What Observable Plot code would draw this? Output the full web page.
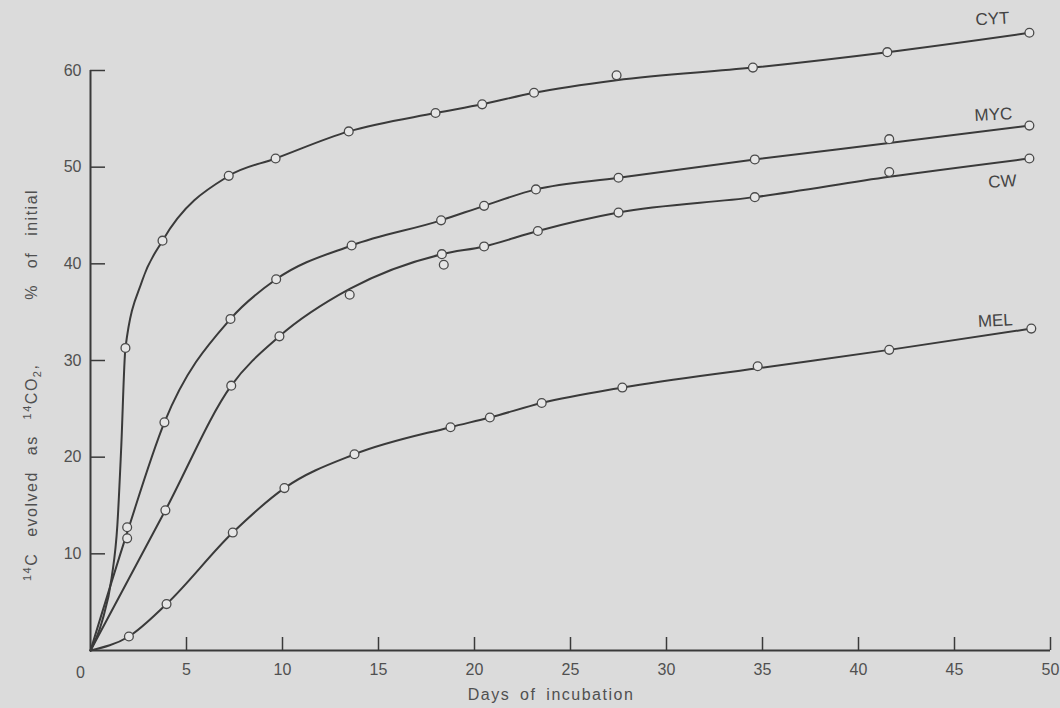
<!DOCTYPE html>
<html><head><meta charset="utf-8">
<script src="https://cdn.jsdelivr.net/npm/d3@7"></script>
<script src="https://cdn.jsdelivr.net/npm/@observablehq/plot@0.6"></script>
<style>
html,body{margin:0;padding:0;background:#dbdbdb;}
#chart{width:1060px;height:708px;}
</style></head><body><div id="chart"></div>
<script>
// ---- data ----
const xTicks = [5, 10, 15, 20, 25, 30, 35, 40, 45, 50];
const yTicks = [10, 20, 30, 40, 50, 60];
const originLabel = ["0"];
const seriesNames = ["CYT", "MYC", "CW", "MEL"];

// measured points (open circles)
const cytDays   = [1.82, 3.75, 7.2, 9.64, 13.45, 17.97, 20.4, 23.1, 27.4, 34.5, 41.5, 48.9];
const cytValues = [31.3, 42.4, 49.1, 50.9, 53.7, 55.6, 56.5, 57.7, 59.5, 60.3, 61.9, 63.9];
const mycDays   = [1.91, 1.91, 3.85, 7.29, 9.67, 13.6, 18.26, 20.5, 23.2, 27.5, 34.6, 41.6, 48.9];
const mycValues = [12.75, 11.6, 23.6, 34.3, 38.4, 41.9, 44.5, 46.0, 47.7, 48.9, 50.8, 52.9, 54.3];
const cwDays    = [3.9, 7.33, 9.84, 13.5, 18.3, 18.4, 20.5, 23.3, 27.5, 34.6, 41.6, 48.9];
const cwValues  = [14.5, 27.4, 32.5, 36.8, 41.0, 39.9, 41.8, 43.4, 45.3, 46.9, 49.5, 50.9];
const melDays   = [2.0, 3.96, 7.41, 10.1, 13.75, 18.75, 20.8, 23.5, 27.7, 34.75, 41.6, 49.0];
const melValues = [1.45, 4.8, 12.2, 16.8, 20.3, 23.1, 24.1, 25.6, 27.2, 29.4, 31.1, 33.3];

// hand-drawn fitted curves
const cytCurveDays   = [0, 0.6, 1.1, 1.4, 1.6, 1.82, 2.7, 3.75, 7.2, 9.64, 13.45, 17.97, 20.4, 23.1, 27.4, 34.5, 41.5, 48.9];
const cytCurveValues = [0, 3.0, 7.5, 13.0, 21.0, 31.3, 38.3, 42.4, 49.1, 50.9, 53.7, 55.6, 56.5, 57.7, 59.0, 60.3, 61.9, 63.9];
const mycCurveDays   = [0, 1.91, 3.85, 7.29, 9.67, 13.6, 18.26, 20.5, 23.2, 27.5, 34.6, 41.6, 48.9];
const mycCurveValues = [0, 12.2, 23.6, 34.3, 38.4, 41.9, 44.5, 46.0, 47.7, 48.9, 50.8, 52.5, 54.3];
const cwCurveDays    = [0, 3.9, 7.33, 9.84, 13.5, 18.3, 20.5, 23.3, 27.5, 34.6, 41.6, 48.9];
const cwCurveValues  = [0, 14.5, 27.4, 32.5, 37.4, 41.0, 41.8, 43.4, 45.3, 46.9, 49.0, 50.9];
const melCurveDays   = [0, 2.0, 3.96, 7.41, 10.1, 13.75, 18.75, 20.8, 23.5, 27.7, 34.75, 41.6, 49.0];
const melCurveValues = [0, 1.45, 4.8, 12.2, 16.8, 20.3, 23.1, 24.1, 25.6, 27.2, 29.2, 31.1, 33.3];

// ---- build tables ----
const pointSets = [[cytDays, cytValues], [mycDays, mycValues], [cwDays, cwValues], [melDays, melValues]];
const curveSets = [[cytCurveDays, cytCurveValues], [mycCurveDays, mycCurveValues], [cwCurveDays, cwCurveValues], [melCurveDays, melCurveValues]];
const points = pointSets.flatMap(([d, v], i) => d.map((day, j) => ({series: seriesNames[i], day, value: v[j]})));
const curves = curveSets.flatMap(([d, v], i) => d.map((day, j) => ({series: seriesNames[i], day, value: v[j]})));
const lastPoints = pointSets.map(([d, v], i) => ({series: seriesNames[i], day: d[d.length - 1], value: v[v.length - 1]}));
const byName = n => lastPoints.filter(p => p.series === n);

const ink = "#3a3a3a";
const textInk = "#505050";

const chart = Plot.plot({
  width: 1060,
  height: 708,
  marginLeft: 90,
  marginRight: 10,
  marginTop: 70,
  marginBottom: 58,
  x: {domain: [0, 50], label: null},
  y: {domain: [0, 60], label: null},
  style: {background: "#dbdbdb", fontFamily: "'Liberation Sans', Arial, sans-serif", fontSize: "16px", color: textInk, overflow: "visible"},
  marks: [
    Plot.ruleX([0], {stroke: ink, strokeWidth: 2}),
    Plot.ruleY([0], {stroke: ink, strokeWidth: 2}),
    Plot.axisX({ticks: xTicks, tickSize: -13, tickPadding: 26, tickFormat: d => String(d), label: null, stroke: ink, strokeWidth: 1.5, fill: textInk}),
    Plot.axisY({ticks: yTicks, tickSize: -15, tickPadding: 24, tickFormat: d => String(d), label: null, stroke: ink, strokeWidth: 1.5, fill: textInk}),
    Plot.text(originLabel, {x: () => 0, y: () => 0, text: d => d, dx: -10, dy: 22, fill: textInk, fontSize: 16}),
    Plot.line(curves, {x: "day", y: "value", z: "series", curve: "monotone-x", stroke: ink, strokeWidth: 2}),
    Plot.dot(points, {x: "day", y: "value", r: 4.4, stroke: "#4a4a4a", strokeWidth: 1.3, fill: "#e6e6e6"}),
    Plot.text(byName("CYT"), {x: "day", y: "value", text: "series", dx: -37, dy: -14, rotate: -3, fill: "#444", fontSize: 17, letterSpacing: 1}),
    Plot.text(byName("MYC"), {x: "day", y: "value", text: "series", dx: -36, dy: -11, rotate: -3, fill: "#444", fontSize: 17, letterSpacing: 1}),
    Plot.text(byName("CW"),  {x: "day", y: "value", text: "series", dx: -27, dy: 23, rotate: -3, fill: "#444", fontSize: 17, letterSpacing: 1}),
    Plot.text(byName("MEL"), {x: "day", y: "value", text: "series", dx: -36, dy: -8, rotate: -3, fill: "#444", fontSize: 17, letterSpacing: 1})
  ]
});
document.getElementById("chart").appendChild(chart);

// axis titles
const svg = d3.select(chart);
svg.append("text")
  .attr("x", 551).attr("y", 700)
  .attr("text-anchor", "middle")
  .attr("fill", textInk)
  .style("font-size", "16px")
  .style("letter-spacing", "1.5px")
  .style("word-spacing", "4px")
  .text("Days of incubation");

const yt = svg.append("text")
  .attr("transform", "translate(37,385) rotate(-90)")
  .attr("text-anchor", "middle")
  .attr("fill", textInk)
  .style("font-size", "16px")
  .style("letter-spacing", "1.5px")
  .style("word-spacing", "10px");
yt.append("tspan").attr("dy", -6).style("font-size", "11px").text("14");
yt.append("tspan").attr("dy", 6).text("C evolved as ");
yt.append("tspan").attr("dy", -6).style("font-size", "11px").text("14");
yt.append("tspan").attr("dy", 6).text("CO");
yt.append("tspan").attr("dy", 4).style("font-size", "11px").text("2");
yt.append("tspan").attr("dy", -4).text(",    % of initial");
</script>
</body></html>
